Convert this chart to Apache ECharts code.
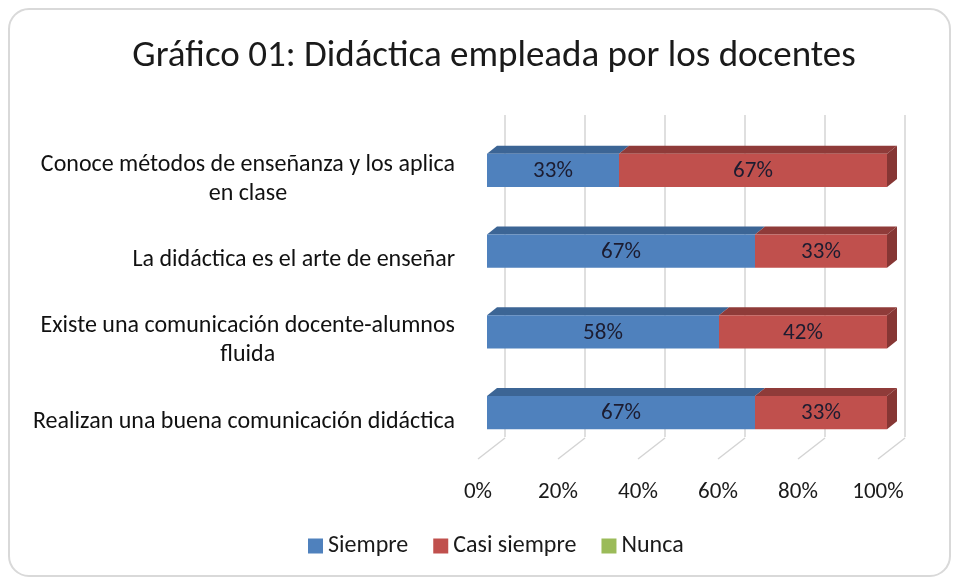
<!DOCTYPE html>
<html>
<head>
<meta charset="utf-8">
<script src="https://cdn.jsdelivr.net/npm/echarts@6/dist/echarts.min.js"></script>
<style>
  html, body { margin: 0; padding: 0; background: #fff; }
  #chart_div { width: 960px; height: 580px; }
</style>
</head>
<body>
<div id="chart_div"></div>
<script>
// 数据
var categories = [
  'Conoce métodos de enseñanza y los aplica\nen clase',
  'La didáctica es el arte de enseñar',
  'Existe una comunicación docente-alumnos\nfluida',
  'Realizan una buena comunicación didáctica'
]
var siempre = [33, 67, 58, 67]
var casiSiempre = [67, 33, 42, 33]
var nunca = [0, 0, 0, 0]
var ticks = [0, 20, 40, 60, 80, 100]

var seriesNames = ['Siempre', 'Casi siempre', 'Nunca']
var seriesValues = [siempre, casiSiempre, nunca]
var frontColors = ['#4F81BD', '#C0504D', '#9BBB59']
var topColors = ['#3C6595', '#8F3B39', '#76923C']
var sideColors = ['#35598A', '#863634', '#6B8A36']

var FONT = 'Carlito, Lato, sans-serif'
var DX = 10, DY = 8

// 堆叠起止值
function stackData(k) {
  var out = []
  for (var i = 0; i < categories.length; i++) {
    var start = 0
    for (var j = 0; j < k; j++) start += seriesValues[j][i]
    out.push([start, start + seriesValues[k][i], i, seriesValues[k][i]])
  }
  return out
}

// 判断是否为最右侧的段
function isLast(k, i) {
  for (var j = k + 1; j < seriesValues.length; j++) {
    if (seriesValues[j][i] > 0) return false
  }
  return true
}

function barSeries(k) {
  return {
    name: seriesNames[k],
    type: 'custom',
    xAxisIndex: 1,
    yAxisIndex: 1,
    clip: false,
    itemStyle: { color: frontColors[k] },
    data: stackData(k),
    renderItem: function (params, api) {
      var v = api.value(3)
      if (v <= 0) return null
      var i = api.value(2)
      var s = api.coord([api.value(0), i])
      var e = api.coord([api.value(1), i])
      var h = api.size([0, 1])[1] * 0.41
      var top = s[1] - h / 2
      var bottom = s[1] + h / 2
      var children = [
        { type: 'polygon', shape: { points: [[s[0], top], [e[0], top], [e[0] + DX, top - DY], [s[0] + DX, top - DY]] },
          style: { fill: topColors[k] } },
        { type: 'rect', shape: { x: s[0], y: top, width: e[0] - s[0], height: h },
          style: { fill: frontColors[k] } },
        { type: 'text', x: (s[0] + e[0]) / 2, y: s[1] + 1,
          style: { text: v + '%', fill: '#1c1c30', font: '23px ' + FONT, align: 'center', verticalAlign: 'middle' } }
      ]
      if (isLast(k, i)) {
        children.push({ type: 'polygon', shape: { points: [[e[0], top], [e[0] + DX, top - DY], [e[0] + DX, bottom - DY], [e[0], bottom]] },
          style: { fill: sideColors[k] } })
      }
      return { type: 'group', children: children }
    }
  }
}

var myChart = echarts.init(document.getElementById('chart_div'))

var option = {
  backgroundColor: '#fff',
  animation: false,
  textStyle: { fontFamily: FONT },
  title: {
    text: 'Gráfico 01: Didáctica empleada por los docentes',
    left: 489,
    top: 33,
    textAlign: 'center',
    textStyle: { fontFamily: FONT, fontSize: 37, fontWeight: 'normal', color: '#1a1a1a' }
  },
  graphic: [{
    type: 'rect',
    shape: { x: 9, y: 9, width: 941, height: 567, r: 20 },
    style: { fill: 'none', stroke: '#d9d9d9', lineWidth: 2 },
    z: -10
  }],
  legend: {
    bottom: 17,
    left: 303,
    itemWidth: 15,
    itemHeight: 15,
    itemGap: 25,
    icon: 'rect',
    textStyle: { fontFamily: FONT, fontSize: 24, color: '#1a1a1a' },
    data: seriesNames
  },
  grid: [
    { left: 505, top: 115, width: 400, height: 322 },   // 背面网格
    { left: 487, top: 130, width: 400, height: 323 },   // 柱子
    { left: 478, top: 458, width: 400, height: 1 }      // 前面刻度
  ],
  xAxis: [
    { gridIndex: 0, type: 'value', min: 0, max: 100, interval: 20,
      axisLabel: { show: false }, axisLine: { show: false }, axisTick: { show: false },
      splitLine: { lineStyle: { color: '#d4d4d4', width: 1.5 } } },
    { gridIndex: 1, type: 'value', min: 0, max: 100, show: false, splitLine: { show: false } },
    { gridIndex: 2, type: 'value', min: 0, max: 100, interval: 20,
      axisLine: { show: false }, axisTick: { show: false }, splitLine: { show: false },
      axisLabel: { formatter: '{value}%', margin: 22, fontSize: 23, color: '#1a1a1a', fontFamily: FONT } }
  ],
  yAxis: [
    { gridIndex: 0, type: 'category', data: categories, show: false },
    { gridIndex: 1, type: 'category', data: categories, inverse: true,
      axisLine: { show: false }, axisTick: { show: false },
      axisLabel: {
        margin: 32,
        padding: [18, 0, 0, 0],
        formatter: function (v) {
          return v.split('\n').map(function (l) { return '{c|' + l + '}' }).join('\n')
        },
        rich: { c: { align: 'center', fontSize: 24, lineHeight: 29, color: '#111', fontFamily: FONT } }
      } },
    { gridIndex: 2, type: 'value', show: false }
  ],
  series: [
    barSeries(0),
    barSeries(1),
    barSeries(2),
    {
      // 底面斜线
      type: 'custom',
      xAxisIndex: 2,
      yAxisIndex: 2,
      clip: false,
      silent: true,
      data: ticks.map(function (t) { return [t, 0] }),
      renderItem: function (params, api) {
        var p = api.coord([api.value(0), 0])
        return { type: 'line', shape: { x1: p[0], y1: p[1], x2: p[0] + 27, y2: p[1] - 21 },
          style: { stroke: '#d4d4d4', lineWidth: 1.5 } }
      }
    }
  ]
}

myChart.setOption(option)
</script>
</body>
</html>
